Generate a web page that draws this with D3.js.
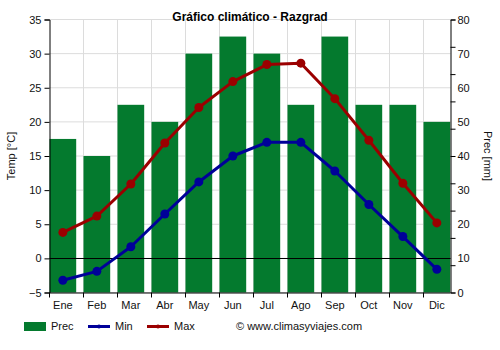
<!DOCTYPE html>
<html><head><meta charset="utf-8">
<script src="https://cdn.jsdelivr.net/npm/d3@7"></script>
<style>
body{margin:0;background:#fff;}
svg{display:block;font-family:"Liberation Sans",Arial,sans-serif;}
</style></head>
<body>
<svg id="chart" width="500" height="350"></svg>
<script>
const months = ["Ene","Feb","Mar","Abr","May","Jun","Jul","Ago","Sep","Oct","Nov","Dic"];
const prec = [45,40,55,50,70,75,70,55,75,55,55,50];
const tmin = [-3.2,-1.9,1.7,6.5,11.2,15.0,17.0,17.0,12.8,7.9,3.2,-1.6];
const tmax = [3.8,6.2,10.9,16.9,22.1,25.9,28.4,28.6,23.4,17.3,11.0,5.2];
const tempTicks = [-5,0,5,10,15,20,25,30,35];
const precLabels = [0,10,20,30,40,50,60,70,80];
const precTicks = [0,8,16,24,32,40,48,56,64,72,80];

const L = 49.5, R = 450.5, T = 19.5, B = 292.5;
const svg = d3.select("#chart");
const x = d3.scaleBand().domain(months).range([L, L + 12*34]);
const barW = x.bandwidth()*0.785;
const yT = d3.scaleLinear().domain([-5,35]).range([B,T]);
const yP = d3.scaleLinear().domain([0,80]).range([B,T]);
const cx = m => x(m) + barW/2;

// grid
svg.append("g").selectAll("line").data(tempTicks).join("line")
  .attr("x1",L).attr("x2",R).attr("y1",d=>yT(d)).attr("y2",d=>yT(d))
  .attr("stroke","#dcdcdc").attr("stroke-width",1);
svg.append("g").selectAll("line").data(months.slice(1)).join("line")
  .attr("x1",d=>x(d)).attr("x2",d=>x(d)).attr("y1",T).attr("y2",B)
  .attr("stroke","#dcdcdc").attr("stroke-width",1);

// bars
svg.append("g").selectAll("rect").data(prec).join("rect")
  .attr("x",(d,i)=>x(months[i])).attr("width",barW)
  .attr("y",d=>yP(d)).attr("height",d=>B-yP(d))
  .attr("fill","#047a2e");

// zero line
svg.append("line").attr("x1",L).attr("x2",R).attr("y1",Math.round(yT(0))+0.5).attr("y2",Math.round(yT(0))+0.5)
  .attr("stroke","#000").attr("stroke-width",1);

// axes
const fs = "11px";
const gl = svg.append("g").attr("transform",`translate(${L},0)`)
  .call(d3.axisLeft(yT).tickValues(tempTicks).tickSize(5).tickPadding(3).tickFormat(d3.format("d")));
const gr = svg.append("g").attr("transform",`translate(${R},0)`)
  .call(d3.axisRight(yP).tickValues(precTicks).tickSize(5).tickFormat(""));
const grl = svg.append("g").attr("transform",`translate(${R},0)`)
  .call(d3.axisRight(yP).tickValues(precLabels).tickSize(0).tickPadding(7).tickFormat(d3.format("d")));
grl.select(".domain").remove();
const gb = svg.append("g").attr("transform",`translate(0,${B})`)
  .call(d3.axisBottom(x).tickSize(0).tickFormat(""));
gb.select(".domain").attr("d",`M${L},0.5H${R}`);
svg.append("g").selectAll("line").data(months).join("line")
  .attr("x1",d=>x(d)).attr("x2",d=>x(d)).attr("y1",B).attr("y2",B+5).attr("stroke","#000");
svg.append("g").selectAll("text").data(months).join("text")
  .attr("x",d=>cx(d)).attr("y",B+16).attr("text-anchor","middle")
  .attr("font-size",fs).attr("fill","#111").text(d=>d);
[gl,gr,grl].forEach(g=>{g.selectAll("text").attr("font-size",fs).attr("fill","#111").attr("font-family","Liberation Sans, Arial, sans-serif");
  g.selectAll("path,line").attr("stroke","#000");});

// lines
const line = d3.line().x((d,i)=>cx(months[i])).y(d=>yT(d));
function series(data,color){
  svg.append("path").datum(data).attr("d",line).attr("fill","none")
    .attr("stroke",color).attr("stroke-width",3).attr("stroke-linejoin","round");
  svg.append("g").selectAll("circle").data(data).join("circle")
    .attr("cx",(d,i)=>cx(months[i])).attr("cy",d=>yT(d)).attr("r",4.5).attr("fill",color);
}
series(tmax,"#9b0000");
series(tmin,"#000099");

// titles
svg.append("text").attr("x",250).attr("y",21).attr("text-anchor","middle")
  .attr("font-size","12px").attr("font-weight","bold").attr("fill","#000").text("Gráfico climático - Razgrad");
svg.append("text").attr("transform",`translate(15,156) rotate(-90)`).attr("text-anchor","middle")
  .attr("font-size",fs).attr("fill","#111").text("Temp [°C]");
svg.append("text").attr("transform",`translate(484,156) rotate(90)`).attr("text-anchor","middle")
  .attr("font-size",fs).attr("fill","#111").text("Prec [mm]");

// legend
const lg = svg.append("g");
lg.append("rect").attr("x",24).attr("y",322).attr("width",22).attr("height",9).attr("fill","#047a2e");
lg.append("text").attr("x",51).attr("y",330).attr("font-size",fs).attr("fill","#111").text("Prec");
[[88,"#000099","Min"],[147,"#9b0000","Max"]].forEach(([lx,c,t])=>{
  lg.append("line").attr("x1",lx).attr("x2",lx+22).attr("y1",326.5).attr("y2",326.5).attr("stroke",c).attr("stroke-width",3);
  lg.append("circle").attr("cx",lx+11).attr("cy",326.5).attr("r",2).attr("fill",c);
  lg.append("text").attr("x",lx+27).attr("y",330).attr("font-size",fs).attr("fill","#111").text(t);
});
lg.append("text").attr("x",236).attr("y",330).attr("font-size",fs).attr("fill","#111").text("© www.climasyviajes.com");
</script>
</body></html>
